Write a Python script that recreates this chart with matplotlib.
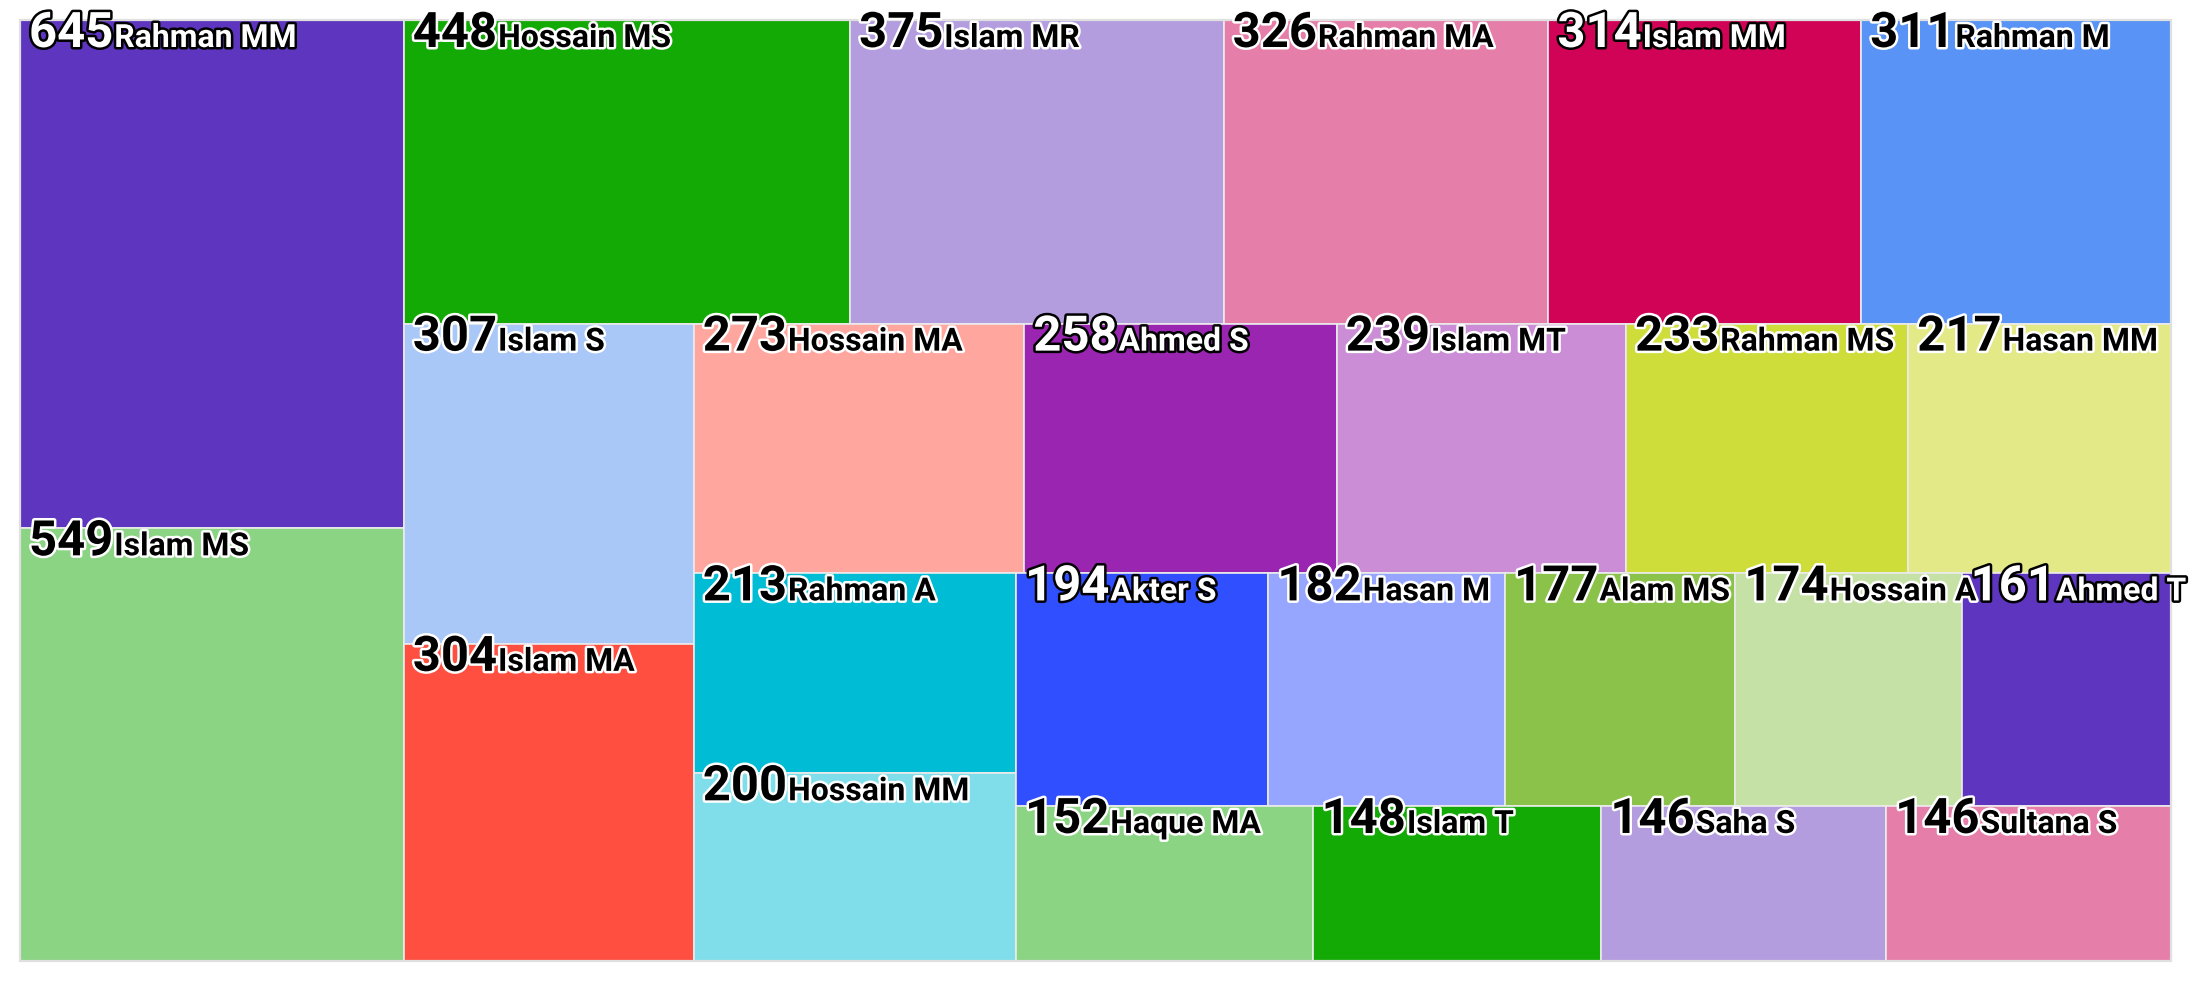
import math
import matplotlib
matplotlib.use("Agg")
import matplotlib.pyplot as plt
from matplotlib.patches import Rectangle
import matplotlib.patheffects as pe

# ---------------- data ----------------
names = ["Rahman MM", "Islam MS", "Hossain MS", "Islam MR", "Rahman MA", "Islam MM",
         "Rahman M", "Islam S", "Islam MA", "Hossain MA", "Ahmed S", "Islam MT",
         "Rahman MS", "Hasan MM", "Rahman A", "Hossain MM", "Akter S", "Hasan M",
         "Alam MS", "Hossain A", "Ahmed T", "Haque MA", "Islam T", "Saha S", "Sultana S"]
values = [645, 549, 448, 375, 326, 314, 311, 307, 304, 273, 258, 239, 233, 217,
          213, 200, 194, 182, 177, 174, 161, 152, 148, 146, 146]
palette = ["#5e35be", "#8bd483", "#14aa05", "#b39ddf", "#e67eaa", "#d10357",
           "#5893f5", "#a9c8f8", "#ff4f40", "#ffa79e", "#9a25b1", "#cb8ed6",
           "#cedd3a", "#e2e986", "#00bcd4", "#80deea", "#304ffe", "#96a6ff",
           "#8bc34a", "#c5e1a5"]

# ---------------- figure geometry ----------------
W_PX, H_PX, DPI = 2192, 992, 100
PL, PR, PT, PB = 20, 2171, 20, 961  # plot area in pixels

fig = plt.figure(figsize=(W_PX / DPI, H_PX / DPI), dpi=DPI)
fig.patch.set_facecolor("white")
ax = fig.add_axes([PL / W_PX, 1 - PB / H_PX, (PR - PL) / W_PX, (PB - PT) / H_PX])
ratio = (PR - PL) / (PB - PT)
AW, AH = 100.0 * ratio, 100.0
ax.set_xlim(0, AW)
ax.set_ylim(AH, 0)
ax.axis("off")


# ---------------- squarified layout (low aspect ratio, alternating) ----------------
class Group:
    def __init__(self, h, w, d):
        self.height, self.width, self.direction = h, w, d
        self.total = 0.0
        self.nW = self.lW = self.nH = self.lH = 0.0
        self.elArr = []
        self.lP = dict(total=float("nan"), lH=0.0, nH=0.0, lW=0.0, nW=0.0,
                       nR=float("nan"), lR=float("nan"))

    @staticmethod
    def ar(w, h):
        try:
            return max(w / h, h / w)
        except ZeroDivisionError:
            return float("nan")

    def add(self, el):
        lp = self.lP
        lp["total"] = self.elArr[-1] if self.elArr else float("nan")
        self.total += el
        empty = not self.elArr
        if self.direction == 0:
            self.lW = self.nW
            self.nW = self.total / self.height
            if empty:
                lp["lR"] = lp["nR"] = float("nan")
            else:
                lp["lH"] = lp["total"] / self.lW
                lp["lR"] = self.ar(self.lW, lp["lH"])
                lp["nH"] = lp["total"] / self.nW
                lp["nR"] = self.ar(self.nW, lp["nH"])
        else:
            self.lH = self.nH
            self.nH = self.total / self.width
            if empty:
                lp["lR"] = lp["nR"] = float("nan")
            else:
                lp["lW"] = lp["total"] / self.lH
                lp["lR"] = self.ar(lp["lW"], self.lH)
                lp["nW"] = lp["total"] / self.nH
                lp["nR"] = self.ar(lp["nW"], self.nH)
        self.elArr.append(el)

    def reset(self):
        self.nW = self.lW = 0.0
        self.elArr = []
        self.total = 0.0


def layout(px, py, pw, ph, vals):
    tot = sum(vals)
    areas = [pw * ph * v / tot for v in vals]
    out = []
    plot = {"x": px, "y": py}
    g = Group(ph, pw, 0)

    def calc(last):
        gW, gH = g.lW, g.lH
        keep = None
        if last:
            gW, gH = g.nW, g.nH
        else:
            keep = g.elArr[-1]
        end = len(g.elArr) - 1
        for i, p in enumerate(g.elArr):
            if last or i < end:
                if g.direction == 0:
                    pW = gW
                    pH = p / pW
                else:
                    pH = gH
                    pW = p / pH
                out.append((plot["x"], plot["y"], pW, pH))
                if g.direction == 0:
                    plot["y"] += pH
                else:
                    plot["x"] += pW
        g.reset()
        if g.direction == 0:
            g.width -= gW
        else:
            g.height -= gH
        plot["y"] = py + (ph - g.height)
        plot["x"] = px + (pw - g.width)
        g.direction = 1 - g.direction
        if not last:
            g.add(keep)

    n = len(areas)
    for i, a in enumerate(areas):
        g.add(a)
        if g.lP["nR"] > g.lP["lR"]:
            calc(False)
        if i == n - 1:
            calc(True)
    return out


def contrast(hexcol):
    r, gg, b = matplotlib.colors.to_rgb(hexcol)
    lin = [c / 12.92 if c <= 0.03928 else ((c + 0.055) / 1.055) ** 2.4 for c in (r, gg, b)]
    l = 0.2126 * lin[0] + 0.7152 * lin[1] + 0.0722 * lin[2]
    return "#ffffff" if 1.05 / (l + 0.05) > (l + 0.05) / 0.05 else "#000000"


rects = layout(0.0, 0.0, AW, AH, values)

FONT = "Roboto"
NUM_PT = 49 * 72 / DPI
NAME_PT = 32 * 72 / DPI

num_texts = []
for k, ((x, y, w, h), v, nm) in enumerate(zip(rects, values, names)):
    col = palette[k % len(palette)]
    ax.add_patch(Rectangle((x, y), w, h, facecolor=col, edgecolor="#ebebeb",
                           linewidth=1.2, zorder=1))
    fg = contrast(col)
    bg = "#000000" if fg == "#ffffff" else "#ffffff"
    eff = [pe.withStroke(linewidth=3.6, foreground=bg)]
    t = ax.annotate(str(v), xy=(x, y), xytext=(9, -27), textcoords="offset pixels",
                    ha="left", va="baseline", fontsize=NUM_PT, fontweight="bold",
                    family=FONT, color=fg, path_effects=eff, zorder=5,
                    annotation_clip=False)
    num_texts.append((t, x, y, nm, fg, eff))

# outer frame
ax.add_patch(Rectangle((0, 0), AW, AH, facecolor="none", edgecolor="#e0e0e0",
                       linewidth=1.6, zorder=3, clip_on=False))

fig.canvas.draw()
renderer = fig.canvas.get_renderer()
for t, x, y, nm, fg, eff in num_texts:
    wpx = t.get_window_extent(renderer).width
    ax.annotate(nm, xy=(x, y), xytext=(9 + wpx + 1, -27), textcoords="offset pixels",
                ha="left", va="baseline", fontsize=NAME_PT, fontweight="bold",
                family=FONT, color=fg, path_effects=eff, zorder=5,
                annotation_clip=False)

fig.savefig("out.png", dpi=DPI, facecolor="white")
